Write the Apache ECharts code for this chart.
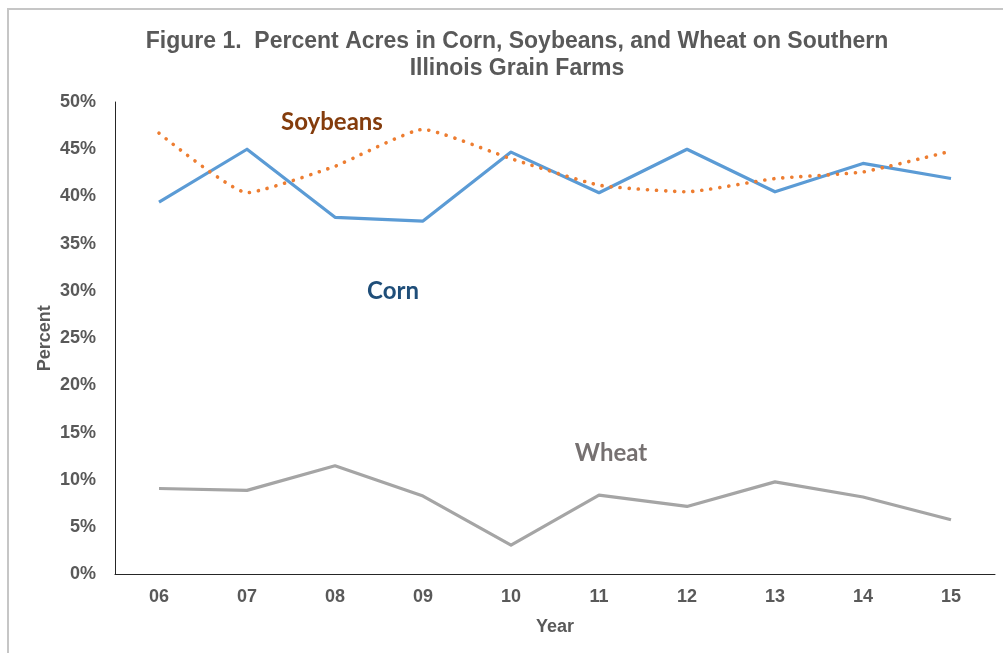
<!DOCTYPE html>
<html>
<head>
<meta charset="utf-8">
<script src="https://cdn.jsdelivr.net/npm/echarts@6/dist/echarts.min.js"></script>
<style>
  html, body { margin: 0; padding: 0; background: #fff; }
  #chart { width: 1003px; height: 653px; }
</style>
</head>
<body>
<div id="chart"></div>
<script>
var years = ['06', '07', '08', '09', '10', '11', '12', '13', '14', '15'];
var corn = [39.4, 45.0, 37.8, 37.4, 44.7, 40.4, 45.0, 40.5, 43.5, 41.9];
var soybeans = [46.7, 40.4, 43.2, 47.1, 44.0, 41.2, 40.5, 41.9, 42.6, 44.8];
var wheat = [9.1, 8.9, 11.5, 8.3, 3.1, 8.4, 7.2, 9.8, 8.2, 5.8];

var dom = document.getElementById('chart');
var chart = echarts.init(dom, null, { renderer: 'canvas' });

var axisFont = {
    fontFamily: 'Liberation Sans',
    fontWeight: 'bold',
    fontSize: 18,
    color: '#595959'
};

chart.setOption({
    animation: false,
    title: {
        text: 'Figure 1.  Percent Acres in Corn, Soybeans, and Wheat on Southern\nIllinois Grain Farms',
        left: 512,
        top: 23,
        textAlign: 'center',
        textStyle: {
            fontFamily: 'Liberation Sans',
            fontWeight: 'bold',
            fontSize: 23,
            lineHeight: 27,
            color: '#595959'
        }
    },
    grid: {
        left: 115,
        right: 8,
        top: 102,
        bottom: 78.5,
        containLabel: false
    },
    xAxis: {
        type: 'category',
        data: years,
        boundaryGap: true,
        name: 'Year',
        nameLocation: 'middle',
        nameGap: 44,
        nameTextStyle: axisFont,
        axisLine: { lineStyle: { color: '#262626', width: 1 } },
        axisTick: { show: false },
        axisLabel: Object.assign({ margin: 14 }, axisFont),
        splitLine: { show: false }
    },
    yAxis: {
        type: 'value',
        min: 0,
        max: 50,
        interval: 5,
        name: 'Percent',
        nameLocation: 'middle',
        nameGap: 61,
        nameMoveOverlap: false,
        nameTextStyle: axisFont,
        axisLine: { show: true, lineStyle: { color: '#262626', width: 1 } },
        axisTick: { show: false },
        axisLabel: Object.assign({ margin: 19, formatter: '{value}%' }, axisFont),
        splitLine: { show: false }
    },
    graphic: [
        {
            type: 'polyline',
            silent: true,
            shape: { points: [[8, 653], [8, 9], [1003, 9]] },
            style: { stroke: '#c6c6c6', lineWidth: 2, fill: null }
        },
        {
            type: 'text',
            x: 332, y: 122,
            style: {
                text: 'Soybeans', fill: '#843C0C',
                font: 'bold 24px Lato', align: 'center', verticalAlign: 'middle'
            }
        },
        {
            type: 'text',
            x: 393, y: 291,
            style: {
                text: 'Corn', fill: '#1F4E79',
                font: 'bold 24px Lato', align: 'center', verticalAlign: 'middle'
            }
        },
        {
            type: 'text',
            x: 611, y: 453,
            style: {
                text: 'Wheat', fill: '#767171',
                font: 'bold 24px Lato', align: 'center', verticalAlign: 'middle'
            }
        }
    ],
    series: [
        {
            name: 'Corn',
            type: 'line',
            data: corn,
            showSymbol: false,
            lineStyle: { color: '#5B9BD5', width: 3.2, join: 'round' }
        },
        {
            name: 'Soybeans',
            type: 'line',
            data: soybeans,
            showSymbol: false,
            smooth: 0.15,
            lineStyle: { color: '#ED7D31', width: 3.6, type: [0.1, 9], cap: 'round' }
        },
        {
            name: 'Wheat',
            type: 'line',
            data: wheat,
            showSymbol: false,
            lineStyle: { color: '#A5A5A5', width: 3.2, join: 'round' }
        }
    ]
});

window.addEventListener('resize', chart.resize);
</script>
</body>
</html>
